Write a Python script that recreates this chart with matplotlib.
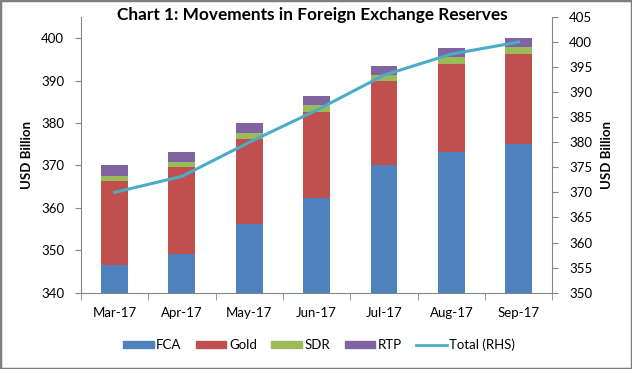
import numpy as np
import matplotlib
matplotlib.use("Agg")
import matplotlib.pyplot as plt
from matplotlib.patches import Patch, Rectangle
from matplotlib.lines import Line2D

plt.rcParams["font.family"] = ["Lato", "DejaVu Sans"]

MONTHS = ["Mar-17", "Apr-17", "May-17", "Jun-17", "Jul-17", "Aug-17", "Sep-17"]
FCA = [346.4, 349.2, 356.2, 362.4, 370.0, 373.2, 375.1]
GOLD = [19.9, 20.4, 20.1, 20.3, 20.0, 20.8, 21.1]
SDR = [1.3, 1.3, 1.4, 1.5, 1.4, 1.5, 1.7]
RTP = [2.5, 2.3, 2.3, 2.2, 2.0, 2.1, 2.1]
TOTAL = [370.0, 373.2, 380.0, 386.4, 393.4, 397.6, 400.0]

COLORS = ["#4F81BD", "#C0504D", "#9BBB59", "#8064A2"]
LINE_COLOR = "#4BACC6"
SPINE = "#868686"
FS = 9.5

fig = plt.figure(figsize=(6.32, 3.69), dpi=100)
ax = fig.add_axes([0.128, 0.207, 0.746, 0.747])
x = np.arange(len(MONTHS))

bottom = np.zeros(len(MONTHS))
for vals, c, lab in zip([FCA, GOLD, SDR, RTP], COLORS, ["FCA", "Gold", "SDR", "RTP"]):
    ax.bar(x, vals, width=0.4, bottom=bottom, color=c, label=lab, zorder=2)
    bottom += np.array(vals)

ax.set_xlim(-0.5, len(MONTHS) - 0.5)
ax.set_ylim(340, 405)
ax.set_yticks(np.arange(340, 401, 10))
ax.set_xticks(x)
ax.set_xticklabels(MONTHS, fontsize=FS)
ax.set_xticks(np.arange(-0.5, len(MONTHS)), minor=True)
ax.tick_params(axis="x", which="major", length=0, pad=10)
ax.tick_params(axis="x", which="minor", length=5, color=SPINE, direction="out")
ax.tick_params(axis="y", length=4, color=SPINE, labelsize=FS, pad=8)
ax.set_ylabel("USD Billion", fontsize=FS, fontweight="bold", labelpad=6)
for s in ["top", "right"]:
    ax.spines[s].set_visible(False)
for s in ["left", "bottom"]:
    ax.spines[s].set_color(SPINE)

ax2 = ax.twinx()
ax2.plot(x, TOTAL, color=LINE_COLOR, lw=2.2, label="Total (RHS)", zorder=3)
ax2.set_ylim(350, 405)
ax2.set_yticks(np.arange(350, 406, 5))
ax2.tick_params(axis="y", length=4, color=SPINE, labelsize=FS, pad=8)
ax2.set_ylabel("USD Billion", fontsize=FS, fontweight="bold", labelpad=6)
for s in ["top", "left", "bottom"]:
    ax2.spines[s].set_visible(False)
ax2.spines["right"].set_color(SPINE)

fig.text(117 / 632, 1 - 15 / 369, "Chart 1: Movements in Foreign Exchange Reserves",
         fontsize=12.4, fontweight="bold", va="center", ha="left")

handles = [Patch(color=c) for c in COLORS] + [Line2D([], [], color=LINE_COLOR, lw=2)]
labels = ["FCA", "Gold", "SDR", "RTP", "Total (RHS)"]
fig.legend(handles, labels, loc="center", bbox_to_anchor=(0.505, 1 - 345 / 369), ncol=5,
           frameon=False, fontsize=FS, handlelength=2.3, handleheight=0.4,
           handletextpad=0.2, columnspacing=1.1)

fig.patches.append(Rectangle((0, 0), 1, 1, transform=fig.transFigure, fill=False,
                             edgecolor="#7f7f7f", lw=2.5))

fig.savefig("out.png", dpi=100)
